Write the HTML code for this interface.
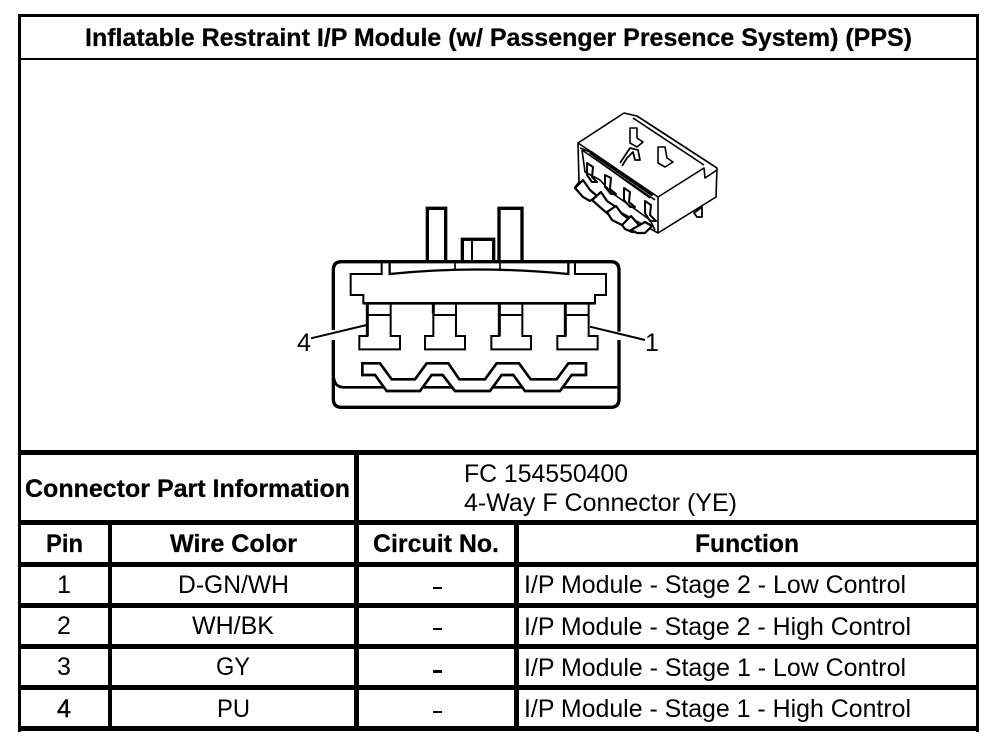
<!DOCTYPE html>
<html><head><meta charset="utf-8"><style>
html,body{margin:0;padding:0;background:#fff;width:1008px;height:748px;overflow:hidden}
svg{display:block}
text{font-family:"Liberation Sans",sans-serif;fill:#000}
.b{font-weight:bold;font-size:25px;stroke:#000;stroke-width:.25px}
.r{font-size:25px}
</style></head><body>
<svg width="1008" height="748" viewBox="0 0 1008 748" xmlns="http://www.w3.org/2000/svg">
<rect width="1008" height="748" fill="#fff"/>
<!-- table frame -->
<g fill="#000">
<rect x="18" y="14" width="961" height="3"/>
<rect x="18" y="14" width="3" height="718"/>
<rect x="976" y="14" width="3" height="718"/>
<rect x="18" y="58" width="961" height="2"/>
<rect x="18" y="450" width="961" height="5"/>
<rect x="18" y="520" width="961" height="5"/>
<rect x="18" y="562" width="961" height="5"/>
<rect x="18" y="603" width="961" height="5"/>
<rect x="18" y="644" width="961" height="5"/>
<rect x="18" y="685" width="961" height="5"/>
<rect x="18" y="726" width="961" height="5"/>
<rect x="354" y="450" width="5" height="281"/>
<rect x="108" y="520" width="4" height="211"/>
<rect x="514" y="520" width="5" height="211"/>
</g>
<!-- text -->
<text class="b" x="85" y="46" textLength="827" lengthAdjust="spacingAndGlyphs">Inflatable Restraint I/P Module (w/ Passenger Presence System) (PPS)</text>
<text class="b" x="25" y="497" textLength="325" lengthAdjust="spacingAndGlyphs">Connector Part Information</text>
<text class="r" x="464" y="482" textLength="164" lengthAdjust="spacingAndGlyphs">FC 154550400</text>
<text class="r" x="464" y="511" textLength="273" lengthAdjust="spacingAndGlyphs">4-Way F Connector (YE)</text>
<text class="b" x="46" y="552" textLength="37" lengthAdjust="spacingAndGlyphs">Pin</text>
<text class="b" x="170" y="552" textLength="127" lengthAdjust="spacingAndGlyphs">Wire Color</text>
<text class="b" x="373" y="552" textLength="126" lengthAdjust="spacingAndGlyphs">Circuit No.</text>
<text class="b" x="695" y="552" textLength="104" lengthAdjust="spacingAndGlyphs">Function</text>
<text class="r" x="64" y="593" text-anchor="middle">1</text>
<text class="r" x="64" y="634" text-anchor="middle">2</text>
<text class="r" x="64" y="675" text-anchor="middle">3</text>
<text class="r" x="64" y="717" text-anchor="middle" stroke="#000" stroke-width=".5">4</text>
<text class="r" x="178" y="593" textLength="111" lengthAdjust="spacingAndGlyphs">D-GN/WH</text>
<text class="r" x="192" y="634" textLength="82" lengthAdjust="spacingAndGlyphs">WH/BK</text>
<text class="r" x="216" y="675" textLength="34" lengthAdjust="spacingAndGlyphs">GY</text>
<text class="r" x="217" y="717" textLength="33" lengthAdjust="spacingAndGlyphs">PU</text>
<g fill="#000">
<rect x="433" y="587" width="9" height="2"/>
<rect x="433" y="628" width="9" height="2"/>
<rect x="433" y="670" width="9" height="3"/>
<rect x="433" y="711" width="9" height="2"/>
</g>
<text class="r" x="524" y="593" textLength="382" lengthAdjust="spacingAndGlyphs">I/P Module - Stage 2 - Low Control</text>
<text class="r" x="524" y="635" textLength="387" lengthAdjust="spacingAndGlyphs">I/P Module - Stage 2 - High Control</text>
<text class="r" x="524" y="676" textLength="382" lengthAdjust="spacingAndGlyphs">I/P Module - Stage 1 - Low Control</text>
<text class="r" x="524" y="717" textLength="387" lengthAdjust="spacingAndGlyphs">I/P Module - Stage 1 - High Control</text>
<text class="r" x="297" y="351" textLength="14" lengthAdjust="spacingAndGlyphs">4</text>
<text class="r" x="645" y="351">1</text>

<!-- front view connector -->
<g transform="translate(320,200) scale(.33333)" fill="none" stroke="#000" stroke-width="10" stroke-linejoin="miter">
<path d="M322 185V25H377V185M537 185V25H606V185M427 185V118H521V185"/>
<path d="M456 118V185" stroke-width="6"/>
<path d="M40 390V210Q40 185 65 185H872Q897 185 897 210V395M897 420V597Q897 622 872 622H65Q40 622 40 597V420"/>
<path d="M42 535Q45 562 72 562H895" stroke-width="8"/>
<g stroke-width="6">
<path d="M142 310V408H118V448H240V408H212V310"/>
<path d="M340 310V408H315V448H435V408H408V310"/>
<path d="M538 310V408H514V448H633V408H607V310"/>
<path d="M736 310V408H712V448H833V408H806V310"/>
</g>
<path d="M142 310V408M340 310V340M538 310V408M736 310V408" stroke-width="9"/>
<path d="M185 188V222H92V285H130V310H825V285H858V222H765V188" stroke-width="6"/>
<path d="M130 310H825" stroke-width="8"/>
<path d="M209 188V222Q470 195 745 222V188" stroke-width="7"/>
<path d="M405 185V208M540 185V208" stroke-width="5"/>
<path d="M142 345H212M340 345H408M538 345H607M736 345H806" stroke-width="6"/>
<path fill="#fff" d="M127 490H180L215 538H285L320 490H385L418 538H495L530 490H597L632 538H710L745 490H798V525H755L720 573H615L580 525H545L510 573H405L368 525H335L300 573H200L165 525H127Z" stroke-width="8"/>
<path d="M-27 415L140 375M810 380L975 420" stroke-width="6"/>
</g>

<!-- 3D connector (page px) -->
<g fill="none" stroke="#000" stroke-width="1.6" stroke-linejoin="round">
<path fill="#fff" d="M624 113L578 143L579 182L575 187L658 233L716 197L717 168L637 116Z"/>
<path d="M578 143L658 197L704 168L705 178L717 170M658 197L658 232M633 118L704 165M637 116L717 168"/>
<path d="M580 148L590 152M582 150L585 172L600 180L612 193L632 207L650 220L655 230M582 150L655 200"/>
<path d="M590 152L653 195" stroke-width="3.6"/>
<path d="M594 158L650 198" stroke-width="1.6"/>
<path d="M630 128H637V138L643 142L637 147L630 143Z"/>
<path d="M658 147H665L667 158L673 162L665 167L658 163Z"/>
<path d="M620 163L630 148L638 150L640 160L635 160L633 152L627 158L622 166" stroke-width="1.8"/>
<g stroke-width="2">
<path d="M587 163L593 167L592 177L597 182L592 182L587 175Z"/>
<path d="M605 175L611 178L610 189L616 194L611 194L605 187Z"/>
<path d="M624 188L630 192L629 202L635 207L630 207L624 200Z"/>
<path d="M645 201L651 205L650 215L656 221L650 221L645 213Z"/>
</g>
<g fill="#fff" stroke-width="2.2">
<path d="M575 188L583 180L590 190L597 196L590 201L583 197Z"/>
<path d="M592 200L601 192L607 201L616 207L608 214L601 208Z"/>
<path d="M607 212L616 206L622 214L630 220L622 225L612 220Z"/>
<path d="M622 225L631 216L638 224L640 231L632 232L625 229Z"/>
<path d="M631 230L645 222L652 226L645 233L637 233Z"/>
</g>
<path d="M694 213L702 207V217H697Z" stroke-width="1.8"/>
</g>
</svg>
</body></html>
